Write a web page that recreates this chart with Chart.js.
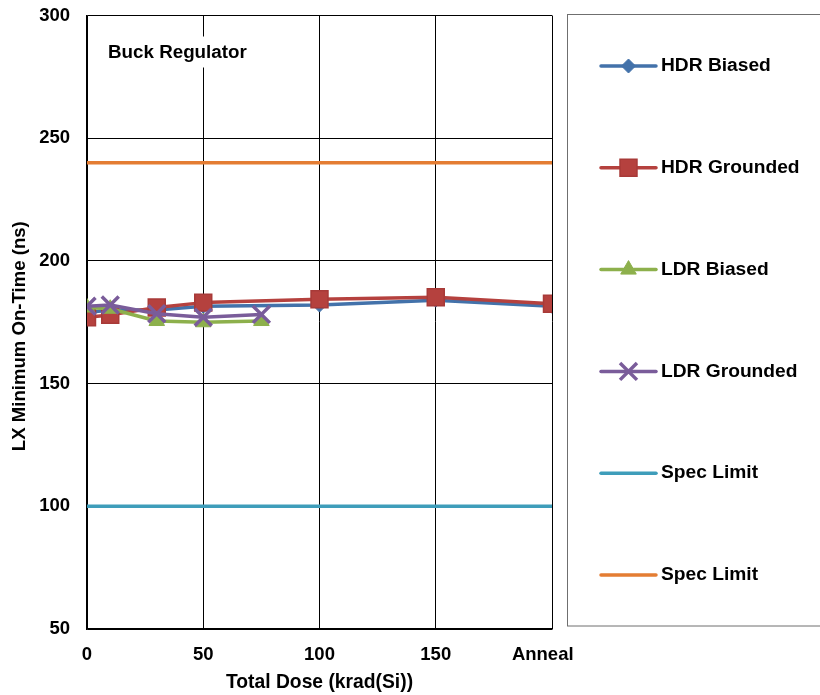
<!DOCTYPE html>
<html>
<head>
<meta charset="utf-8">
<script src="https://cdn.jsdelivr.net/npm/chart.js@4/dist/chart.umd.min.js"></script>
<style>
  html, body { margin: 0; padding: 0; background: #ffffff; }
  #wrap { width: 820px; height: 695px; }
</style>
</head>
<body>
<div id="wrap"><canvas id="c" width="820" height="695"></canvas></div>
<script>
// Total dose steps (krad(Si)); 200 is the anneal step
const doseHDR = [0, 10, 30, 50, 100, 150, 200];
const doseLDR = [0, 10, 30, 50, 75];
const doseSpan = [0, 200];

// LX minimum on-time (ns)
const hdrBiased   = [179, 180, 180, 181.5, 182, 184, 181.5];
const hdrGrounded = [177, 178, 181, 183, 184.4, 185.2, 182.5];
const ldrBiased   = [181, 180.5, 175.5, 175, 175.5];
const ldrGrounded = [181.5, 182, 178.5, 177, 178.2];
const specLow  = [100, 100];
const specHigh = [240, 240];

const seriesNames = ['HDR Biased', 'HDR Grounded', 'LDR Biased', 'LDR Grounded', 'Spec Limit', 'Spec Limit'];
const xTicks = [0, 50, 100, 150, 200];
const xTickLabels = ['0', '50', '100', '150', 'Anneal\u2002\u2002'];

const FONT = "'Liberation Sans', Arial, sans-serif";
const TICK_FS = 18.5;
const TITLE_FS = 19.3;
const LEGEND_FS = 19.2;
const INSET_FS = 18.8;

const pts = (xs, ys) => xs.map((x, i) => ({ x: x, y: ys[i] }));

const colors = {
  blue: '#4372AA', red: '#B5413E', green: '#8DB04C',
  purple: '#7A5C9A', teal: '#3E9DBA', orange: '#E47D33'
};

const datasets = [
  { label: seriesNames[0], data: pts(doseHDR, hdrBiased), borderColor: colors.blue, backgroundColor: colors.blue,
    pointStyle: 'rectRot', pointRadius: 7, pointBorderWidth: 1, order: 6 },
  { label: seriesNames[1], data: pts(doseHDR, hdrGrounded), borderColor: colors.red, backgroundColor: colors.red,
    pointStyle: 'rect', pointRadius: 12, pointBorderWidth: 1.5, pointBorderColor: '#A83A38', order: 5 },
  { label: seriesNames[2], data: pts(doseLDR, ldrBiased), borderColor: colors.green, backgroundColor: colors.green,
    pointStyle: 'triangle', pointRadius: 9, pointBorderWidth: 1, order: 4 },
  { label: seriesNames[3], data: pts(doseLDR, ldrGrounded), borderColor: colors.purple, backgroundColor: colors.purple,
    pointStyle: 'crossRot', pointRadius: 12, pointBorderWidth: 3.5, order: 3 },
  { label: seriesNames[4], data: pts(doseSpan, specLow), borderColor: colors.teal, backgroundColor: colors.teal,
    pointRadius: 0, pointStyle: false, order: 2 },
  { label: seriesNames[5], data: pts(doseSpan, specHigh), borderColor: colors.orange, backgroundColor: colors.orange,
    pointRadius: 0, pointStyle: false, order: 1 }
];
datasets.forEach(d => {
  d.borderWidth = 3.5;
  d.tension = 0;
  d.fill = false;
  d.pointHoverRadius = d.pointRadius;
  d.borderCapStyle = 'round';
  d.borderJoinStyle = 'round';
});

// Boxed legend on the right plus the inset plot label
const sidePanel = {
  id: 'sidePanel',
  afterDraw(chart) {
    const ctx = chart.ctx;
    const area = chart.chartArea;
    ctx.save();

    // inset label with white backing
    ctx.font = 'bold ' + INSET_FS + 'px ' + FONT;
    const label = 'Buck Regulator';
    const lw = ctx.measureText(label).width;
    ctx.fillStyle = '#ffffff';
    ctx.fillRect(area.left + 14, area.top + 21, lw + 12, 31);
    ctx.fillStyle = '#000000';
    ctx.textAlign = 'left';
    ctx.textBaseline = 'middle';
    ctx.fillText(label, area.left + 21, area.top + 37);

    // legend frame
    ctx.strokeStyle = '#6f6f6f';
    ctx.lineWidth = 1;
    ctx.strokeRect(567.5, 14.5, 300, 611.5);

    const x0 = 601, x1 = 656, step = 101.8;
    chart.data.datasets.forEach((ds, i) => {
      const y = 66 + i * step;
      ctx.strokeStyle = ds.borderColor;
      ctx.lineWidth = ds.borderWidth;
      ctx.lineCap = 'round';
      ctx.beginPath();
      ctx.moveTo(x0, y);
      ctx.lineTo(x1, y);
      ctx.stroke();
      if (ds.pointStyle) {
        ctx.fillStyle = ds.backgroundColor;
        ctx.strokeStyle = ds.pointBorderColor || ds.borderColor;
        ctx.lineWidth = ds.pointBorderWidth;
        ctx.lineCap = 'butt';
        Chart.helpers.drawPoint(ctx, {
          pointStyle: ds.pointStyle, radius: ds.pointRadius, rotation: 0, borderWidth: ds.pointBorderWidth
        }, (x0 + x1) / 2, y);
      }
      ctx.fillStyle = '#000000';
      ctx.font = 'bold ' + LEGEND_FS + 'px ' + FONT;
      ctx.textAlign = 'left';
      ctx.textBaseline = 'middle';
      ctx.fillText(ds.label, 661, y);
    });
    ctx.restore();
  }
};

new Chart(document.getElementById('c'), {
  type: 'line',
  data: { datasets: datasets },
  plugins: [sidePanel],
  options: {
    responsive: false,
    animation: false,
    events: [],
    layout: { padding: { top: 15, right: 268, left: 0, bottom: 0 } },
    plugins: { legend: { display: false }, tooltip: { enabled: false } },
    scales: {
      x: {
        type: 'linear',
        min: 0, max: 200,
        afterFit(scale) { scale.height = 66; scale.paddingLeft = 0; scale.paddingRight = 0; },
        afterBuildTicks(scale) { scale.ticks = xTicks.map(v => ({ value: v })); },
        ticks: {
          color: '#000',
          font: { family: FONT, size: TICK_FS, weight: 'bold' },
          padding: 15,
          maxRotation: 0,
          autoSkip: false,
          callback: (v) => xTickLabels[xTicks.indexOf(v)]
        },
        grid: { color: '#000', lineWidth: 1, drawTicks: false },
        border: { color: '#000', width: 1.5 },
        title: {
          display: true, text: 'Total Dose (krad(Si))', color: '#000',
          font: { family: FONT, size: TITLE_FS, weight: 'bold' },
          padding: { top: 0, bottom: 1 }
        }
      },
      y: {
        min: 50, max: 300,
        afterFit(scale) { scale.width = 87; scale.paddingTop = 0; scale.paddingBottom = 0; },
        ticks: {
          stepSize: 50,
          color: '#000',
          font: { family: FONT, size: TICK_FS, weight: 'bold' },
          padding: 17
        },
        grid: { color: '#000', lineWidth: 1, drawTicks: false },
        border: { color: '#000', width: 1.5 },
        title: {
          display: true, text: 'LX Minimum On-Time (ns)\u2002\u2002\u2002', color: '#000',
          font: { family: FONT, size: 18.6, weight: 'bold' },
          padding: { top: 9, bottom: 0 }
        }
      }
    }
  }
});
</script>
</body>
</html>
